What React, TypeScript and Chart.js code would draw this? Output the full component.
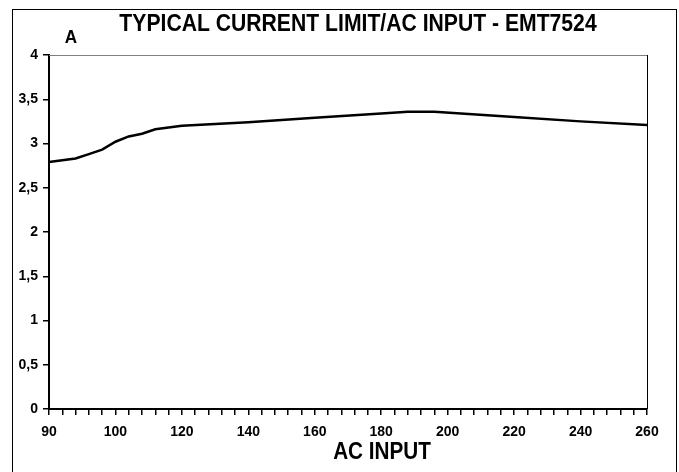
import React, { useEffect, useRef } from "react";
import { Chart, registerables } from "chart.js";

Chart.register(...registerables);

// X axis categories (each minor tick of the original axis)
const acInputCategories = [
  "90", "92", "94", "96", "98", "100", "104", "108", "112", "116",
  "120", "124", "128", "132", "136", "140", "144", "148", "152", "156",
  "160", "164", "168", "172", "176", "180", "184", "188", "192", "196",
  "200", "204", "208", "212", "216", "220", "224", "228", "232", "236",
  "240", "244", "248", "252", "256", "260",
];
// Categories that carry a visible label
const labelledTicks = ["90", "100", "120", "140", "160", "180", "200", "220", "240", "260"];

// Values
const readVoltages = ["90", "94", "96", "98", "100", "104", "108", "112", "120", "140", "160", "180", "188", "196", "220", "240", "260"];
const readCurrents = [2.79, 2.83, 2.88, 2.93, 3.02, 3.08, 3.11, 3.16, 3.2, 3.24, 3.29, 3.34, 3.36, 3.36, 3.3, 3.25, 3.21];

const TITLE = "TYPICAL CURRENT LIMIT/AC INPUT - EMT7524";
const Y_UNIT = "A";
const X_TITLE = "AC INPUT";

const FONT = "'Liberation Sans', Arial, Helvetica, sans-serif";

function drawCondensed(ctx: CanvasRenderingContext2D, text: string, x: number, y: number, size: number, sx: number) {
  ctx.save();
  ctx.translate(x, y);
  ctx.scale(sx, 1);
  ctx.font = `bold ${size}px ${FONT}`;
  ctx.textAlign = "center";
  ctx.textBaseline = "alphabetic";
  ctx.fillStyle = "#000000";
  ctx.fillText(text, 0, 0);
  ctx.restore();
}

export default function App() {
  const ref = useRef<HTMLCanvasElement | null>(null);

  useEffect(() => {
    if (!ref.current) return;
    const framePlugin = {
      id: "frame",
      beforeDraw(chart: any) {
        const ctx = chart.ctx;
        ctx.save();
        ctx.fillStyle = "#ffffff";
        ctx.fillRect(0, 0, chart.width, chart.height);
        ctx.strokeStyle = "#000000";
        ctx.lineWidth = 1;
        ctx.strokeRect(12.5, 9.5, 664, 480);
        ctx.restore();
      },
      afterDraw(chart: any) {
        const ctx = chart.ctx;
        const a = chart.chartArea;
        ctx.save();
        ctx.lineWidth = 1;
        ctx.strokeStyle = "#808080";
        ctx.beginPath();
        ctx.moveTo(a.left, Math.round(a.top) + 0.5);
        ctx.lineTo(a.right, Math.round(a.top) + 0.5);
        ctx.stroke();
        ctx.strokeStyle = "#000000";
        ctx.beginPath();
        ctx.moveTo(Math.round(a.right) + 0.5, a.top);
        ctx.lineTo(Math.round(a.right) + 0.5, a.bottom);
        ctx.stroke();
        ctx.restore();
        drawCondensed(ctx, TITLE, 358, 31, 23, 0.92);
        drawCondensed(ctx, Y_UNIT, 71, 43, 19, 0.9);
        drawCondensed(ctx, X_TITLE, 382, 459, 23, 0.9);
      },
    };

    const chart = new Chart(ref.current, {
      type: "line",
      data: {
        labels: acInputCategories,
        datasets: [
          {
            data: readVoltages.map((v, i) => ({ x: v, y: readCurrents[i] })) as any,
            borderColor: "#000000",
            borderWidth: 2.5,
            pointRadius: 0,
            tension: 0,
            fill: false,
          },
        ],
      },
      options: {
        animation: false,
        responsive: false,
        devicePixelRatio: 1,
        layout: { padding: { left: 0, top: 55, right: 32, bottom: 0 } },
        plugins: { legend: { display: false }, tooltip: { enabled: false }, title: { display: false } },
        scales: {
          x: {
            type: "category",
            offset: false,
            grid: { drawOnChartArea: false, drawTicks: true, tickLength: 6, color: "#000000", lineWidth: 1.5 },
            border: { display: true, color: "#000000", width: 2 },
            ticks: {
              autoSkip: false,
              maxRotation: 0,
              padding: 9,
              color: "#000000",
              font: { family: FONT, size: 14, weight: "bold" },
              callback: (_v: any, i: number) => {
                const c = acInputCategories[i];
                return labelledTicks.includes(c) ? c : "";
              },
            },
            afterFit: (s: any) => {
              s.height = 63;
            },
          },
          y: {
            min: 0,
            max: 4,
            grid: { drawOnChartArea: false, drawTicks: true, tickLength: 6, color: "#000000", lineWidth: 1.5 },
            border: { display: true, color: "#000000", width: 2 },
            ticks: {
              stepSize: 0.5,
              padding: 5,
              color: "#000000",
              font: { family: FONT, size: 14, weight: "bold" },
              callback: (v: any) => String(v).replace(".", ","),
            },
            afterFit: (s: any) => {
              s.width = 49;
            },
          },
        },
      },
      plugins: [framePlugin],
    });
    return () => chart.destroy();
  }, []);

  return (
    <div style={{ position: "absolute", left: 0, top: 0, width: 679, height: 472 }}>
      <canvas ref={ref} width={679} height={472} style={{ display: "block", width: 679, height: 472 }} />
    </div>
  );
}
